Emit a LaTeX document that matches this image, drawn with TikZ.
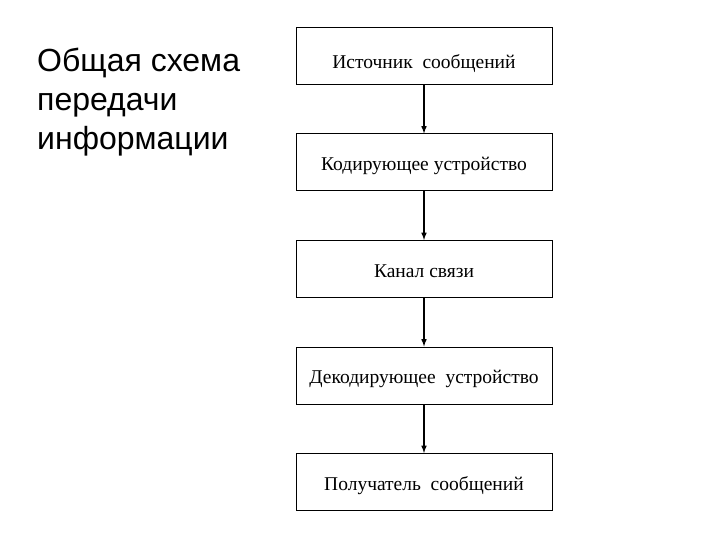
\documentclass[tikz,border=0pt]{standalone}
\usepackage{fontspec}
\setmainfont{Liberation Serif}
\newfontfamily\titlefont{Liberation Sans}
\usetikzlibrary{arrows,positioning}

\begin{document}
\begin{tikzpicture}[x=1pt,y=-1pt,node distance=48.5pt]

\tikzset{stagebox/.style={draw,line width=1pt,minimum width=256pt,minimum height=57pt,inner sep=0pt,text height=16pt,text depth=0pt,font=\fontsize{19.5}{23}\selectfont},
flowarrow/.style={-latex,line width=1.5pt}}

% Margins
\useasboundingbox (0,0) rectangle (720,540);

% Title
\node[anchor=north west,align=left,inner sep=0pt,font=\titlefont\fontsize{32}{39}\selectfont] (title) at (37,48) {Общая схема\\передачи\\информации};

% Stage boxes
\node (src) [stagebox,text height=25pt] at (424,56) {Источник\ \ сообщений};
\node (enc) [below=of src,stagebox] {Кодирующее устройство};
\node (chan) [below=of enc,stagebox] {Канал связи};
\node (dec) [below=of chan,stagebox] {Декодирующее\ \ устройство};
\node (dst) [below=of dec,stagebox] {Получатель\ \ сообщений};

% Arrows
\draw[flowarrow] (src) -- (enc); \draw[flowarrow] (enc) -- (chan); \draw[flowarrow] (chan) -- (dec); \draw[flowarrow] (dec) -- (dst);

\end{tikzpicture}
\end{document}
